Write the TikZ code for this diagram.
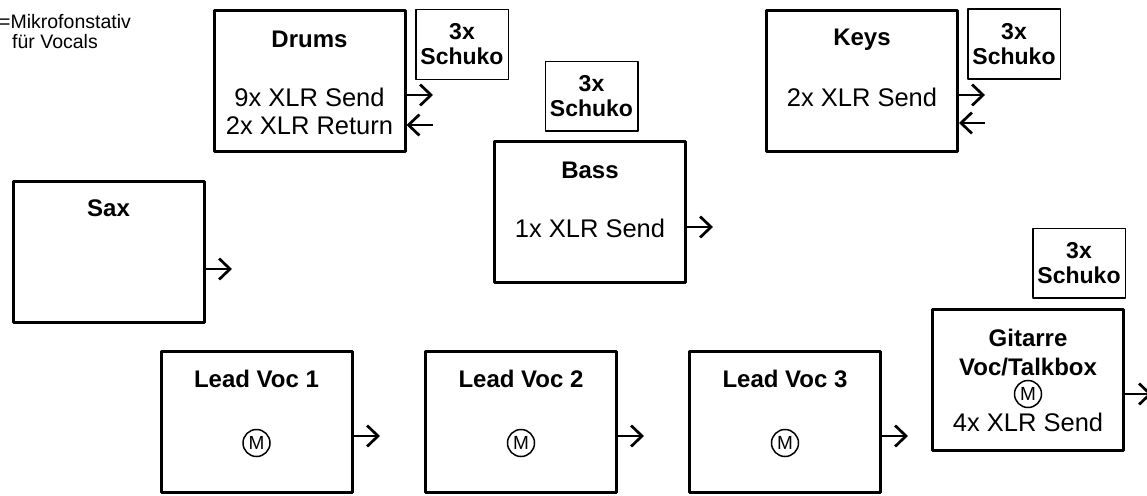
\documentclass[tikz,border=0pt]{standalone}
\usepackage{fontspec}
\setmainfont{Liberation Sans}
\usetikzlibrary{arrows.meta}
\begin{document}
\begin{tikzpicture}[x=1pt,y=-1pt, line join=round,
        box/.style={draw,line width=3pt,minimum width=191pt,minimum height=141pt,inner sep=0pt},
        plug/.style={draw,line width=1.5pt,minimum width=92.5pt,minimum height=69.5pt,inner sep=0pt,
            align=center,font=\fontsize{23}{25}\selectfont\bfseries},
        head/.style={inner sep=0pt,align=center,font=\fontsize{24}{29}\selectfont\bfseries},
        body/.style={inner sep=0pt,align=center,font=\fontsize{25.5}{28}\selectfont},
        mic/.style={draw,circle,line width=1.5pt,minimum size=27pt,inner sep=0pt,font=\fontsize{19}{19}\selectfont},
        sig/.style={line width=2.7pt,-{Straight Barb[length=11pt,width=21pt]}}]
    \useasboundingbox (0,0) rectangle (1147,495);
    % legend
    \node[inner sep=0pt,anchor=west,align=left,font=\fontsize{19.5}{20}\selectfont] (legend) at (-1,32)
        {=Mikrofonstativ\\\hspace*{13pt}für Vocals};
    % upper row
    \node[box] (drums) at (309.5,81) {};
    \node[head] (drumst) at (309.5,39) {Drums};
    \node[body] (drumsb) at (309.5,111) {9x XLR Send\\2x XLR Return};
    \node[plug] (drumsplug) at (462,44.5) {3x\\Schuko};
    \node[plug] (bassplug) at (591.5,96) {3x\\Schuko};
    \node[box] (bass) at (590,212) {};
    \node[head] (basst) at (590,170) {Bass};
    \node[body] (bassb) at (590,228) {1x XLR Send};
    \node[box] (keys) at (862,81) {};
    \node[head] (keyst) at (862,40) {Keys};
    \node[body] (keysb) at (862,97) {2x XLR Send};
    \node[plug] (keysplug) at (1014,44) {3x\\Schuko};
    \node[box] (sax) at (108.5,251.5) {};
    \node[head] (saxt) at (108.5,208) {Sax};
    % lower row
    \foreach \n/\x in {1/256.5,2/521,3/785}{
        \node[box] (voc\n) at (\x,422) {};
        \node[head] (voc\n t) at (\x,379) {Lead Voc \n};
        \node[mic] (voc\n m) at (\x,443) {M};
    }
    \node[box] (gitarre) at (1028,380) {};
    \node[head] (gitarret) at (1028,352.5) {Gitarre\\Voc/Talkbox};
    \node[mic] (gitarrem) at (1028,394) {M};
    \node[body] (gitarreb) at (1028,422) {4x XLR Send};
    \node[plug] (gitarreplug) at (1079,263) {3x\\Schuko};
    % signal lines
    \coordinate (drumsout) at (433,95);
    \coordinate (drumsin) at (433,125);
    \coordinate (bassout) at (713,227);
    \coordinate (keysout) at (985,95);
    \coordinate (keysin) at (985,123);
    \coordinate (saxout) at (232,269);
    \coordinate (voc1out) at (380,436);
    \coordinate (voc2out) at (644,436);
    \coordinate (voc3out) at (908,436);
    \coordinate (gitarreout) at (1152,394);
    \draw[sig] (drums.east |- drumsout) -- (drumsout);
    \draw[sig] (drumsin) -- (drums.east |- drumsin);
    \draw[sig] (bass.east |- bassout) -- (bassout);
    \draw[sig] (keys.east |- keysout) -- (keysout);
    \draw[sig] (keysin) -- (keys.east |- keysin);
    \draw[sig] (sax.east |- saxout) -- (saxout);
    \foreach \n in {1,2,3}
        \draw[sig] (voc\n.east |- voc\n out) -- (voc\n out);
    \draw[sig] (gitarre.east |- gitarreout) -- (gitarreout);
\end{tikzpicture}
\end{document}
